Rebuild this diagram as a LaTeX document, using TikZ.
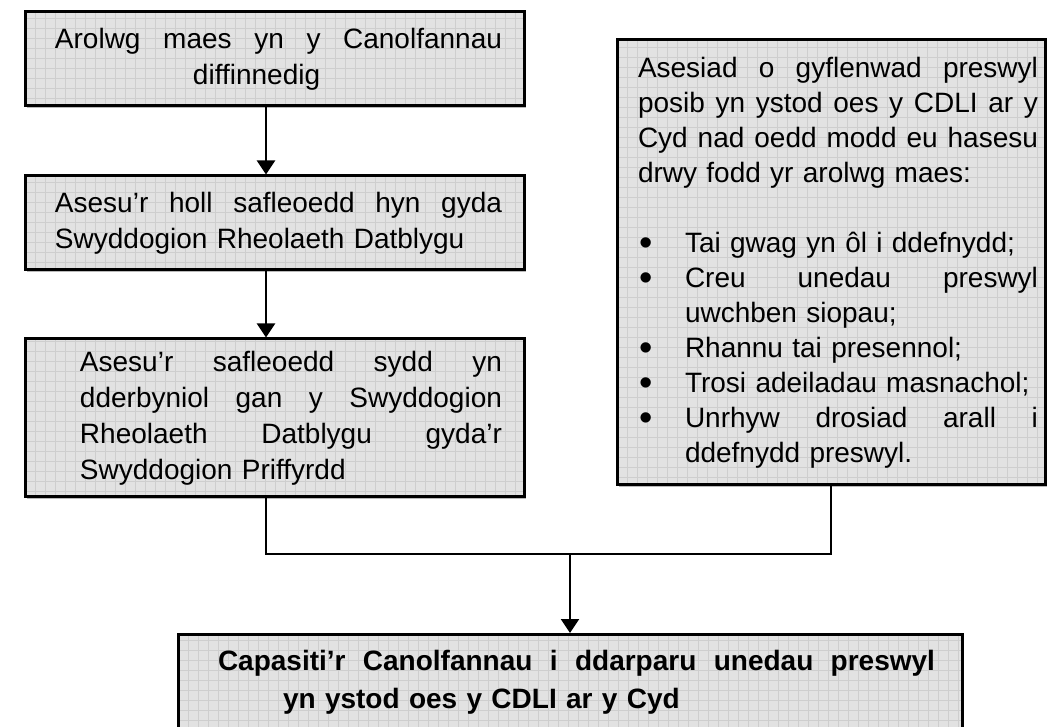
\documentclass[tikz,border=0pt]{standalone}
\usepackage{fontspec}
\setmainfont{Liberation Sans}
\usetikzlibrary{positioning,arrows.meta,shadows}
\definecolor{boxgray}{RGB}{226,226,226}
\definecolor{gridgray}{RGB}{206,206,206}
\newcommand{\spreadline}[2]{\makebox[#1][s]{#2}}
\newcommand{\bul}{\makebox[23pt][l]{\fontsize{19}{17.5}\selectfont\raisebox{-1.6pt}{•}}}

\begin{document}
\begin{tikzpicture}[x=0.5pt,y=-0.5pt,
					gridline/.style={draw=gridgray,line width=0.3pt,step=5pt},
					box/.style={
						shape=rectangle,
						draw=black,
						line width=1.5pt,
						fill=boxgray,
						drop shadow={shadow xshift=0.8pt,shadow yshift=-0.8pt,fill=gray!55,opacity=1},
						path picture={\draw[gridline] (path picture bounding box.south west) grid (path picture bounding box.north east);},
						inner xsep=0pt,
						inner ysep=0pt,
						align=left,
						font=\fontsize{14}{18}\selectfont
					},
					flow/.style={draw=black,line width=1pt,-{Triangle[width=9pt,length=7pt]}},
					link/.style={draw=black,line width=1pt}
					]
	\useasboundingbox (0,0) rectangle (1056,727);
	\clip (0,0) rectangle (1056,727);

	\node[box,text width=249.5pt,minimum height=47pt] (b1) at (274.5,59)
		{\hspace*{15pt}\spreadline{223.5pt}{Arolwg\hfill maes\hfill yn\hfill y\hfill Canolfannau}\\
		 \hspace*{84pt}diffinnedig};
	\node[box,text width=249.5pt,minimum height=47pt] (b2) at (274.5,223)
		{\hspace*{15pt}\spreadline{223.5pt}{Asesu’r\hfill holl\hfill safleoedd\hfill hyn\hfill gyda}\\
		 \hspace*{15pt}Swyddogion Rheolaeth Datblygu};
	\node[box,text width=249.5pt,minimum height=79pt] (b3) at (274.5,418)
		{\hspace*{27.5pt}\spreadline{211pt}{Asesu’r\hfill safleoedd\hfill sydd\hfill yn}\\
		 \hspace*{27.5pt}\spreadline{211pt}{dderbyniol\hfill gan\hfill y\hfill Swyddogion}\\
		 \hspace*{27.5pt}\spreadline{211pt}{Rheolaeth\hfill Datblygu\hfill gyda’r}\\
		 \hspace*{27.5pt}Swyddogion Priffyrdd};

	% bloc ar y dde, gyda rhestr
	\node[box,text width=214pt,minimum height=222.5pt,font=\fontsize{14}{17.5}\selectfont] (rb) at (831,262.5)
		{\hspace*{10.5pt}\spreadline{200pt}{Asesiad\hfill o\hfill gyflenwad\hfill preswyl}\\
		 \hspace*{10.5pt}\spreadline{200pt}{posib\hfill yn\hfill ystod\hfill oes\hfill y\hfill CDLI\hfill ar\hfill y}\\
		 \hspace*{10.5pt}\spreadline{200pt}{Cyd\hfill nad\hfill oedd\hfill modd\hfill eu\hfill hasesu}\\
		 \hspace*{10.5pt}drwy fodd yr arolwg maes:\\
		 \mbox{}\\
		 \hspace*{11pt}\bul Tai gwag yn ôl i ddefnydd;\\
		 \hspace*{11pt}\bul\spreadline{176.5pt}{Creu\hfill unedau\hfill preswyl}\\
		 \hspace*{34pt}uwchben siopau;\\
		 \hspace*{11pt}\bul Rhannu tai presennol;\\
		 \hspace*{11pt}\bul Trosi adeiladau masnachol;\\
		 \hspace*{11pt}\bul\spreadline{176.5pt}{Unrhyw\hfill drosiad\hfill arall\hfill i}\\
		 \hspace*{34pt}ddefnydd preswyl.};

	\node[box,text width=392pt,minimum height=48pt,anchor=north,font=\fontsize{14}{19}\selectfont\bfseries] (cap) at (570,633)
		{\hspace*{20pt}\spreadline{358.5pt}{Capasiti’r\hfill Canolfannau\hfill i\hfill ddarparu\hfill unedau\hfill preswyl}\\
		 \hspace*{52.5pt}yn ystod oes y CDLI ar y Cyd};

	\coordinate (spine) at (266,0);
	\coordinate (join) at (570,554);

	\draw[flow] (b1.south -| spine) -- (b2.north -| spine);
	\draw[flow] (b2.south -| spine) -- (b3.north -| spine);
	\draw[link] (b3.south -| spine) |- (join);
	\draw[link] (rb.south) |- (join);
	\draw[flow] (join) -- (cap.north);
\end{tikzpicture}
\end{document}
